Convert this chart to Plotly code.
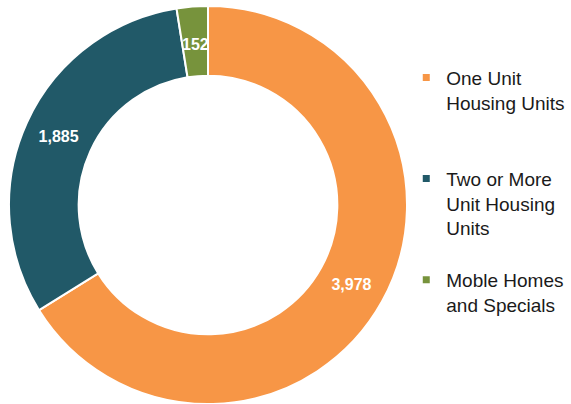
import math
import plotly.graph_objects as go

# Housing unit counts by structure type
categories = ["One Unit Housing Units", "Two or More Unit Housing Units", "Moble Homes and Specials"]
legend_text = ["One Unit<br>Housing Units<br> ", "Two or More<br>Unit Housing<br>Units", "Moble Homes<br>and Specials"]
units = [3978, 1885, 152]
colors = ["#F79646", "#215968", "#77933C"]

FONT = "Arial, Liberation Sans, sans-serif"
W, H = 571, 404

# Pie placement (pixels): domain box and resulting centre / radius
dom_x = [8 / W, 408 / W]
dom_y = [0, 398 / H]
cx_px = (dom_x[0] + dom_x[1]) / 2 * W
cy_px = H - (dom_y[0] + dom_y[1]) / 2 * H
radius_px = min((dom_x[1] - dom_x[0]) * W, (dom_y[1] - dom_y[0]) * H) / 2
hole = 0.65

fig = go.Figure()

# The narrow last slice gets its label as an annotation in the middle of the ring
templates = ["<b>%{value:,}</b>"] * (len(units) - 1) + [""]

fig.add_trace(go.Pie(
    labels=categories,
    values=units,
    hole=hole,
    sort=False,
    direction="clockwise",
    rotation=0,
    marker=dict(colors=colors, line=dict(color="white", width=2)),
    texttemplate=templates,
    textposition="inside",
    insidetextorientation="horizontal",
    textfont=dict(family=FONT, size=16, color="white"),
    domain=dict(x=dom_x, y=dom_y),
    showlegend=False,
    hoverinfo="label+value",
))

total = sum(units)
mid_frac = (sum(units[:-1]) + units[-1] / 2) / total
ang = 2 * math.pi * mid_frac
r_lab = radius_px * (1 + hole) / 2 - 3
fig.add_annotation(
    x=(cx_px + r_lab * math.sin(ang)) / W,
    y=1 - (cy_px - r_lab * math.cos(ang)) / H,
    xref="paper", yref="paper",
    xanchor="center", yanchor="middle",
    text=f"<b>{units[-1]:,}</b>",
    showarrow=False,
    font=dict(family=FONT, size=16, color="white"),
)

# Legend entries with small square swatches
for i, (name, col) in enumerate(zip(legend_text, colors)):
    fig.add_trace(go.Scatter(
        x=[None], y=[None],
        mode="markers",
        marker=dict(symbol="square", size=7, color=col),
        name=name,
        legendgroup=f"g{i}",
        showlegend=True,
        hoverinfo="skip",
    ))

fig.update_layout(
    width=W,
    height=H,
    margin=dict(l=0, r=0, t=0, b=0),
    paper_bgcolor="white",
    plot_bgcolor="white",
    xaxis=dict(visible=False),
    yaxis=dict(visible=False),
    font=dict(family=FONT, color="#1a1a1a"),
    uniformtext=dict(minsize=16, mode="show"),
    legend=dict(
        x=0.7115,
        xanchor="left",
        y=0.855,
        yanchor="top",
        valign="top",
        tracegroupgap=24,
        font=dict(family=FONT, size=19, color="#1a1a1a"),
        itemsizing="trace",
        bgcolor="rgba(0,0,0,0)",
    ),
)

fig.write_html("out.html")
